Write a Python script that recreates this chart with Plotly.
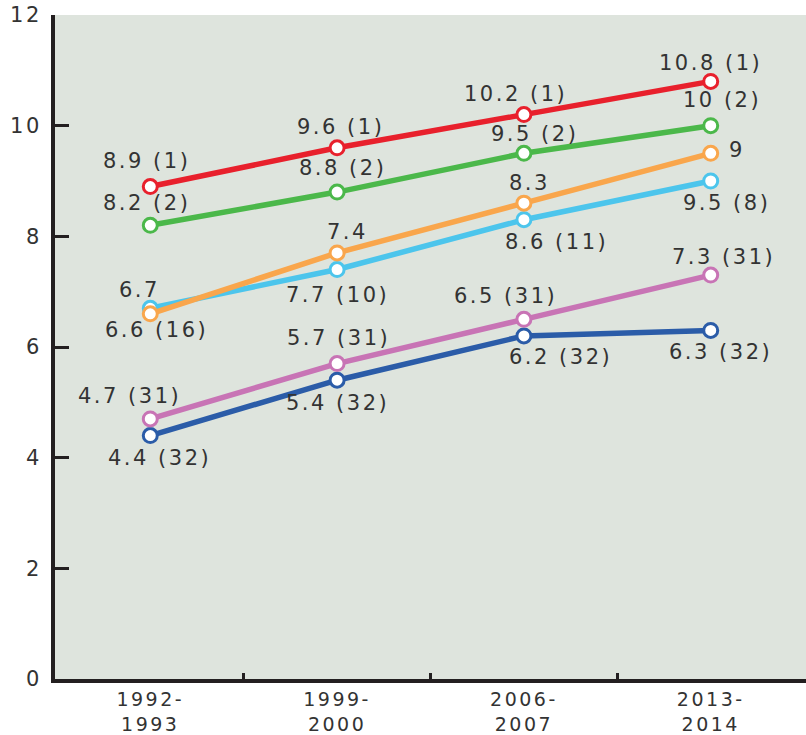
import plotly.graph_objects as go

# Survey periods on the x axis
periods = ["1992-<br>1993", "1999-<br>2000", "2006-<br>2007", "2013-<br>2014"]
y_ticks = [0, 2, 4, 6, 8, 10, 12]

# Series values and (where shown) ranks
red_vals = [8.9, 9.6, 10.2, 10.8]
red_rank = [1, 1, 1, 1]
green_vals = [8.2, 8.8, 9.5, 10.0]
green_rank = [2, 2, 2, 2]
orange_vals = [6.6, 7.7, 8.6, 9.5]
orange_rank = [16, 10, 11, 8]
cyan_vals = [6.7, 7.4, 8.3, 9.0]
cyan_rank = [None, None, None, None]
pink_vals = [4.7, 5.7, 6.5, 7.3]
pink_rank = [31, 31, 31, 31]
blue_vals = [4.4, 5.4, 6.2, 6.3]
blue_rank = [32, 32, 32, 32]

TEXT = "#333333"
FONT = "DejaVu Sans"
SIZE = 21
SPACING = 2.5


def spaced(s):
    return f'<span style="letter-spacing:{SPACING}px">{s}</span>'


def label(v, r):
    s = f"{v:g}"
    if r is not None:
        s += f" ({r})"
    return spaced(s)


# (values, ranks, colour, label offsets in px: dx right, dy down)
series = [
    (blue_vals, blue_rank, "#2b5ca8", [(9, 22), (0, 23), (37, 21), (10, 22)]),
    (pink_vals, pink_rank, "#c874b5", [(-21, -23), (1, -26), (-18, -23), (13, -18)]),
    (cyan_vals, cyan_rank, "#4cc5ec", [(-11, -18), (10, -38), (6, -37), (26, -31)]),
    (orange_vals, orange_rank, "#f9a64c", [(6, 16), (0, 42), (33, 39), (16, 50)]),
    (green_vals, green_rank, "#4bb84a", [(-4, -22), (5, -24), (11, -19), (11, -26)]),
    (red_vals, red_rank, "#e8202c", [(-4, -26), (3, -21), (-8, -21), (0, -18)]),
]

xs = list(range(len(periods)))

fig = go.Figure()
annotations = []
for vals, ranks, color, offs in series:
    fig.add_trace(go.Scatter(
        x=xs, y=vals, mode="lines+markers",
        line=dict(color=color, width=5.5),
        marker=dict(size=14, color="white", line=dict(color=color, width=3)),
        showlegend=False, hoverinfo="skip",
    ))
    for i, (v, r) in enumerate(zip(vals, ranks)):
        dx, dy = offs[i]
        annotations.append(dict(
            x=xs[i], y=v, xref="x", yref="y", text=label(v, r),
            showarrow=False, xanchor="center", yanchor="middle",
            xshift=dx, yshift=-dy,
            font=dict(family=FONT, size=SIZE, color=TEXT),
        ))

fig.update_layout(
    width=806, height=735,
    margin=dict(l=55, r=0, t=15, b=56, autoexpand=False),
    paper_bgcolor="white",
    plot_bgcolor="#dee4dd",
    annotations=annotations,
    font=dict(family=FONT, size=SIZE, color=TEXT),
    xaxis=dict(
        range=[-0.51, 3.51],
        tickmode="array", tickvals=xs,
        ticktext=[spaced(p.split("<br>")[0]) + "<br>" + spaced(p.split("<br>")[1]) for p in periods],
        tickfont=dict(family=FONT, size=19, color=TEXT),
        ticks="", showgrid=False, zeroline=False,
        showline=True, linecolor="#231f20", linewidth=4,
        ticklabelstandoff=0, automargin=False,
        minor=dict(tickmode="array", tickvals=[0.5, 1.5, 2.5],
                   ticks="inside", ticklen=6, tickwidth=3, tickcolor="#231f20",
                   showgrid=False),
        fixedrange=True,
    ),
    yaxis=dict(
        range=[0, 12],
        tickmode="array", tickvals=y_ticks,
        ticktext=[spaced(str(t)) for t in y_ticks],
        ticks="inside", ticklen=14, tickwidth=3, tickcolor="#231f20",
        showgrid=False, zeroline=False,
        showline=True, linecolor="#231f20", linewidth=4,
        ticklabelstandoff=5, automargin=False,
        fixedrange=True,
    ),
)

fig.write_html("out.html")
